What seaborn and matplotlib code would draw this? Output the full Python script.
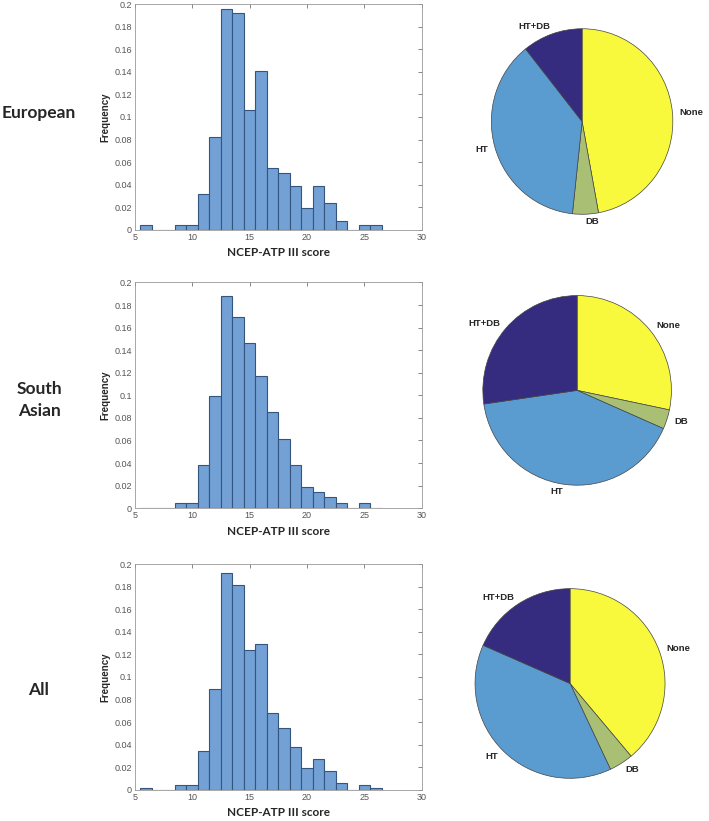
import numpy as np
import pandas as pd
import matplotlib
matplotlib.use('Agg')
import matplotlib.pyplot as plt
import seaborn as sns

# Score bins (width 1, centred on integers 6..26)
bin_edges = [5.5 + k for k in range(22)]
bin_centers = list(range(6, 27))

# relative frequencies per bin
freq_european = [0.004, 0, 0, 0.004, 0.004, 0.032, 0.082, 0.196, 0.192, 0.106, 0.141,
                 0.0546, 0.0507, 0.039, 0.019, 0.039, 0.0236, 0.008, 0, 0.004, 0.004]
freq_south_asian = [0, 0, 0, 0.005, 0.005, 0.038, 0.099, 0.188, 0.169, 0.146, 0.117,
                    0.085, 0.061, 0.038, 0.019, 0.014, 0.0095, 0.005, 0, 0.005, 0]
freq_all = [0.002, 0, 0, 0.004, 0.004, 0.034, 0.089, 0.192, 0.181, 0.1235, 0.129,
            0.068, 0.055, 0.038, 0.019, 0.027, 0.017, 0.006, 0, 0.004, 0.002]

# pie shares (%)
pie_labels = ['None', 'DB', 'HT', 'HT+DB']
pie_european = [47.1, 4.6, 37.6, 10.7]
pie_south_asian = [28.3, 3.3, 41.1, 27.3]
pie_all = [38.9, 4.1, 38.6, 18.4]
pie_colors = ['#F8F83C', '#A9C074', '#5A9BD0', '#352C80']

row_names = ['European', 'South\nAsian', 'All']

sns.set_style('white')
plt.rcParams['font.family'] = ['Liberation Sans', 'DejaVu Sans']

fig = plt.figure(figsize=(7.09, 8.21), dpi=100)

hist_pos = [[0.190, 0.720, 0.405, 0.275],
            [0.190, 0.381, 0.405, 0.275],
            [0.190, 0.038, 0.405, 0.275]]
pie_pos = [[0.693, 0.739, 0.256, 0.226],
           [0.681, 0.409, 0.266, 0.231],
           [0.670, 0.052, 0.268, 0.231]]
label_y = [0.862, 0.513, 0.160]

freqs = [freq_european, freq_south_asian, freq_all]
pies = [pie_european, pie_south_asian, pie_all]

for i in range(3):
    ax = fig.add_axes(hist_pos[i])
    df = pd.DataFrame({'score': bin_centers, 'freq': freqs[i]})
    sns.histplot(data=df, x='score', weights='freq', bins=bin_edges, ax=ax,
                 color='#73A1D5', edgecolor='#34557E', linewidth=0.8, alpha=1)
    ax.set_xlim(5, 30)
    ax.set_ylim(0, 0.2)
    ax.set_xticks([5, 10, 15, 20, 25, 30])
    ax.set_yticks(np.arange(0, 0.201, 0.02))
    ax.set_yticklabels(['0', '0.02', '0.04', '0.06', '0.08', '0.1', '0.12',
                        '0.14', '0.16', '0.18', '0.2'])
    ax.tick_params(direction='in', length=3, width=0.5, labelsize=6.5,
                   colors='#555555', top=True, right=True, pad=2)
    for s in ax.spines.values():
        s.set_color('#999999')
        s.set_linewidth(0.6)
    ax.set_ylabel('Frequency', fontsize=7, fontweight='bold', labelpad=3)
    ax.set_xlabel('NCEP-ATP III score', fontsize=8.5, fontweight='bold',
                  family=['Lato', 'DejaVu Sans'], labelpad=4)

    pax = fig.add_axes(pie_pos[i])
    wedges, texts = pax.pie(pies[i], labels=pie_labels, colors=pie_colors,
                            startangle=90, counterclock=False, labeldistance=1.08,
                            wedgeprops=dict(edgecolor='#444444', linewidth=0.5),
                            textprops=dict(fontsize=6.8, fontweight='bold'))
    pax.set_xlim(-1, 1)
    pax.set_ylim(-1, 1)
    pax.set_aspect('auto')
    pax.axis('off')

    fig.text(0.055, label_y[i], row_names[i], ha='center', va='center',
             fontsize=12.5, fontweight='bold', family=['Lato', 'DejaVu Sans'],
             linespacing=1.5)

fig.savefig('out.png', dpi=100)
